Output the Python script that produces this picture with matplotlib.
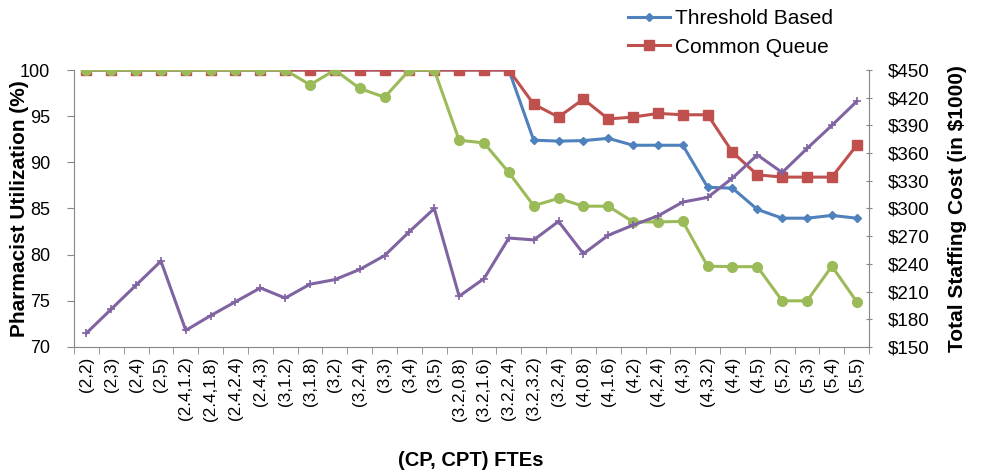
import numpy as np
import matplotlib.pyplot as plt
from matplotlib.lines import Line2D

plt.rcParams['font.family'] = ['Liberation Sans', 'DejaVu Sans']

# Categorias (CP, CPT)
labels = ['(2,2)', '(2,3)', '(2,4)', '(2,5)', '(2.4,1.2)', '(2.4,1.8)', '(2.4,2.4)', '(2.4,3)',
          '(3,1.2)', '(3,1.8)', '(3,2)', '(3,2.4)', '(3,3)', '(3,4)', '(3,5)', '(3.2,0.8)',
          '(3.2,1.6)', '(3.2,2.4)', '(3.2,3.2)', '(3.2,4)', '(4,0.8)', '(4,1.6)', '(4,2)', '(4,2.4)',
          '(4,3)', '(4,3.2)', '(4,4)', '(4,5)', '(5,2)', '(5,3)', '(5,4)', '(5,5)']

threshold = [100] * 18 + [92.4, 92.3, 92.35, 92.6, 91.85, 91.85, 91.85, 87.3, 87.2, 84.9,
                          83.95, 83.95, 84.25, 83.95]
common_queue = [100] * 18 + [96.3, 94.9, 96.85, 94.7, 94.9, 95.3, 95.15, 95.15, 91.1, 88.65,
                             88.4, 88.4, 88.4, 91.85]
green_util = [100, 100, 100, 100, 100, 100, 100, 100, 100, 98.4, 100, 98.0, 97.05, 100, 100, 92.4,
              92.1, 88.9, 85.3, 86.1, 85.25, 85.25, 83.55, 83.55, 83.6, 78.75, 78.7, 78.7,
              75.0, 75.0, 78.75, 74.9]
cost = [165, 191, 217, 243, 168, 184, 199, 214, 203, 218, 223, 234, 249, 275, 300, 205,
        224, 268, 266, 286, 251, 271, 282, 292, 307, 312, 333, 358, 339, 365, 390, 416]

x = np.arange(len(labels))

fig = plt.figure(figsize=(9.81, 4.73), dpi=100)
ax = fig.add_axes([0.0754, 0.2664, 0.8106, 0.5856])
ax2 = ax.twinx()

ax.plot(x, threshold, color='#4F81BD', lw=2.2, marker='D', ms=4.5, label='Threshold Based')
ax.plot(x, common_queue, color='#C0504D', lw=2.2, marker='s', ms=7, label='Common Queue')
ax.plot(x, green_util, color='#9BBB59', lw=2.2, marker='o', ms=7)
ax2.plot(x, cost, color='#8064A2', lw=2.2, marker='+', ms=6, mew=1.2)

ax.set_xlim(-0.5, len(labels) - 0.5)
ax.set_ylim(70, 100)
ax.set_yticks(np.arange(70, 101, 5))
ax2.set_ylim(150, 450)
ax2.set_yticks(np.arange(150, 451, 30))
ax2.set_yticklabels(['$%d' % v for v in range(150, 451, 30)])

ax.set_xticks(x)
ax.set_xticklabels(labels, rotation=90, fontsize=12.3)
ax.set_xticks(np.arange(-0.5, len(labels)), minor=True)
ax.tick_params(axis='x', which='major', length=0, pad=7)
ax.tick_params(axis='x', which='minor', length=5, color='#888888', direction='out')
ax.tick_params(axis='y', labelsize=13, length=5, color='#888888', pad=12)
ax2.tick_params(axis='y', labelsize=13.5, length=5, color='#888888', direction='inout', pad=11)

for a in (ax, ax2):
    a.spines['top'].set_visible(False)
    for s in ('left', 'right', 'bottom'):
        a.spines[s].set_color('#888888')
ax.spines['right'].set_visible(False)
ax2.spines['left'].set_visible(False)
ax2.spines['bottom'].set_visible(False)

ax.set_ylabel('Pharmacist Utilization (%)', fontsize=15, fontweight='bold')
ax.yaxis.set_label_coords(-0.056, 0.5)
ax2.set_ylabel('Total Staffing Cost (in $1000)', fontsize=15, fontweight='bold')
ax2.yaxis.set_label_coords(1.099, 0.5)
fig.text(0.48, 0.027, '(CP, CPT) FTEs', fontsize=14.5, fontweight='bold', ha='center', va='center')

handles = [Line2D([], [], color='#4F81BD', lw=2.2, marker='D', ms=4.5),
           Line2D([], [], color='#C0504D', lw=2.2, marker='s', ms=7)]
fig.legend(handles, ['Threshold Based', 'Common Queue'], loc='upper left',
           bbox_to_anchor=(0.621, 1.02), frameon=False, fontsize=15,
           handlelength=2.0, handletextpad=0.25, labelspacing=0.45)

plt.savefig('out.png', dpi=100)
